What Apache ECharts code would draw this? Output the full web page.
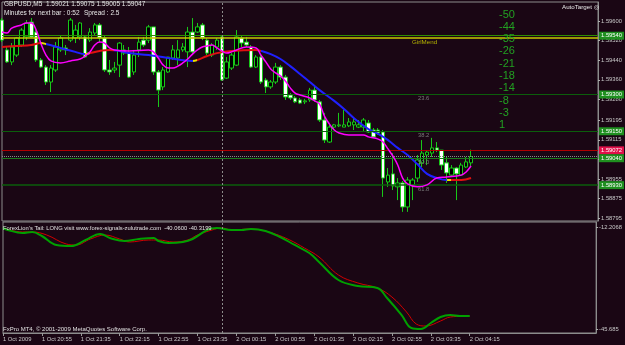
<!DOCTYPE html>
<html>
<head>
<meta charset="utf-8">
<script src="https://cdn.jsdelivr.net/npm/echarts@6/dist/echarts.min.js"></script>
<style>
  html, body { margin: 0; padding: 0; background: #1a0614; }
  #chart { width: 625px; height: 345px; }
</style>
</head>
<body>
<div id="chart"></div>
<script>
// GBPUSD M5, 1 Oct 2009 20:15 .. 2 Oct 2009 04:15, one row per bar: [open, high, low, close]
const bars = [
  [1.59604, 1.59612, 1.59514, 1.59522], [1.59482, 1.59494, 1.59429, 1.59433], [1.59433, 1.59510, 1.59420, 1.59494],
  [1.59461, 1.59535, 1.59453, 1.59531], [1.59502, 1.59571, 1.59494, 1.59563], [1.59535, 1.59604, 1.59522, 1.59592],
  [1.59596, 1.59612, 1.59531, 1.59535], [1.59555, 1.59563, 1.59433, 1.59441], [1.59441, 1.59449, 1.59408, 1.59412],
  [1.59412, 1.59420, 1.59339, 1.59351], [1.59351, 1.59420, 1.59310, 1.59408], [1.59400, 1.59514, 1.59392, 1.59494],
  [1.59482, 1.59539, 1.59474, 1.59531], [1.59490, 1.59502, 1.59461, 1.59482], [1.59522, 1.59612, 1.59514, 1.59604],
  [1.59531, 1.59584, 1.59510, 1.59563], [1.59535, 1.59596, 1.59522, 1.59592], [1.59535, 1.59543, 1.59449, 1.59453],
  [1.59522, 1.59571, 1.59514, 1.59555], [1.59551, 1.59592, 1.59539, 1.59584], [1.59584, 1.59592, 1.59514, 1.59531],
  [1.59531, 1.59539, 1.59392, 1.59400], [1.59400, 1.59441, 1.59380, 1.59392], [1.59400, 1.59433, 1.59388, 1.59408],
  [1.59420, 1.59514, 1.59371, 1.59510], [1.59482, 1.59502, 1.59461, 1.59469], [1.59469, 1.59494, 1.59367, 1.59371],
  [1.59392, 1.59482, 1.59380, 1.59461], [1.59482, 1.59535, 1.59453, 1.59514], [1.59522, 1.59535, 1.59494, 1.59502],
  [1.59522, 1.59584, 1.59510, 1.59576], [1.59576, 1.59576, 1.59380, 1.59392], [1.59392, 1.59400, 1.59249, 1.59318],
  [1.59331, 1.59412, 1.59318, 1.59400], [1.59392, 1.59453, 1.59388, 1.59453], [1.59449, 1.59502, 1.59441, 1.59482],
  [1.59449, 1.59522, 1.59420, 1.59482], [1.59482, 1.59510, 1.59474, 1.59494], [1.59474, 1.59576, 1.59412, 1.59555],
  [1.59555, 1.59612, 1.59461, 1.59474], [1.59555, 1.59592, 1.59551, 1.59576], [1.59584, 1.59592, 1.59522, 1.59531],
  [1.59522, 1.59531, 1.59461, 1.59469], [1.59461, 1.59510, 1.59453, 1.59502], [1.59494, 1.59531, 1.59482, 1.59522],
  [1.59535, 1.59543, 1.59355, 1.59359], [1.59367, 1.59453, 1.59363, 1.59433], [1.59408, 1.59469, 1.59400, 1.59461],
  [1.59420, 1.59563, 1.59416, 1.59535], [1.59531, 1.59539, 1.59494, 1.59510], [1.59514, 1.59535, 1.59494, 1.59502],
  [1.59494, 1.59502, 1.59408, 1.59412], [1.59412, 1.59461, 1.59408, 1.59453], [1.59453, 1.59461, 1.59343, 1.59351],
  [1.59359, 1.59367, 1.59306, 1.59331], [1.59331, 1.59359, 1.59323, 1.59351], [1.59351, 1.59429, 1.59343, 1.59412],
  [1.59412, 1.59420, 1.59359, 1.59371], [1.59371, 1.59380, 1.59278, 1.59290], [1.59298, 1.59306, 1.59278, 1.59286],
  [1.59286, 1.59294, 1.59265, 1.59270], [1.59278, 1.59286, 1.59261, 1.59265], [1.59270, 1.59282, 1.59261, 1.59274],
  [1.59278, 1.59327, 1.59270, 1.59318], [1.59318, 1.59339, 1.59270, 1.59278], [1.59270, 1.59278, 1.59188, 1.59196],
  [1.59196, 1.59225, 1.59102, 1.59114], [1.59106, 1.59176, 1.59102, 1.59167], [1.59167, 1.59180, 1.59155, 1.59176],
  [1.59172, 1.59225, 1.59167, 1.59176], [1.59167, 1.59237, 1.59167, 1.59176], [1.59172, 1.59204, 1.59167, 1.59188],
  [1.59176, 1.59208, 1.59155, 1.59188], [1.59167, 1.59196, 1.59163, 1.59176], [1.59167, 1.59204, 1.59147, 1.59196],
  [1.59184, 1.59196, 1.59143, 1.59147], [1.59155, 1.59163, 1.59123, 1.59127], [1.59155, 1.59163, 1.59135, 1.59143],
  [1.59147, 1.59155, 1.58882, 1.58959], [1.58943, 1.59000, 1.58923, 1.58971], [1.58976, 1.59061, 1.58910, 1.58927],
  [1.58923, 1.58959, 1.58869, 1.58939], [1.58939, 1.58947, 1.58821, 1.58841], [1.58841, 1.58963, 1.58821, 1.58951],
  [1.58931, 1.58959, 1.58869, 1.58951], [1.58959, 1.59053, 1.58943, 1.59033], [1.59021, 1.59114, 1.59004, 1.59061],
  [1.59053, 1.59073, 1.59012, 1.59065], [1.59061, 1.59123, 1.59045, 1.59082], [1.59082, 1.59106, 1.59065, 1.59073],
  [1.59073, 1.59073, 1.58992, 1.59012], [1.59021, 1.59045, 1.58939, 1.58980], [1.58971, 1.59012, 1.58967, 1.59000],
  [1.59000, 1.59004, 1.58869, 1.58976], [1.58971, 1.59021, 1.58967, 1.59012], [1.59004, 1.59045, 1.59000, 1.59025],
  [1.59021, 1.59075, 1.59005, 1.59047]
];

// time labels, one every 8 bars (40 minutes)
const tickLabels = ['1 Oct 2009', '1 Oct 20:55', '1 Oct 21:35', '1 Oct 22:15', '1 Oct 22:55', '1 Oct 23:35',
  '2 Oct 00:15', '2 Oct 00:55', '2 Oct 01:35', '2 Oct 02:15', '2 Oct 02:55', '2 Oct 03:35', '2 Oct 04:15'];
const daySeparator = 45; // 2 Oct 00:00

// moving averages: [bar index, price]
const fastMA = [
  [0, 1.59555], [1, 1.59551], [2, 1.59571], [4, 1.59584], [5, 1.59592], [6, 1.59592], [7, 1.59563], [8, 1.59506],
  [9, 1.59461], [10, 1.59437], [12, 1.59429], [14, 1.59437], [16, 1.59445], [17, 1.59457], [18, 1.59474], [19, 1.59502],
  [20, 1.59514], [21, 1.59510], [22, 1.59490], [23, 1.59482], [26, 1.59478], [30, 1.59482], [31, 1.59474], [32, 1.59449],
  [33, 1.59420], [34, 1.59408], [35, 1.59408], [36, 1.59416], [37, 1.59429], [38, 1.59445], [39, 1.59465], [40, 1.59482],
  [41, 1.59494], [42, 1.59498], [43, 1.59502], [44, 1.59490], [45, 1.59478], [46, 1.59469], [47, 1.59474], [48, 1.59482],
  [50, 1.59494], [52, 1.59490], [53, 1.59461], [54, 1.59433], [55, 1.59404], [56, 1.59388], [57, 1.59376], [58, 1.59355],
  [59, 1.59327], [60, 1.59306], [61, 1.59298], [63, 1.59286], [64, 1.59274], [65, 1.59261], [66, 1.59212], [67, 1.59180],
  [68, 1.59155], [69, 1.59143], [71, 1.59135], [74, 1.59135], [75, 1.59127], [77, 1.59118], [78, 1.59106], [79, 1.59078],
  [80, 1.59049], [81, 1.59012], [82, 1.58959], [83, 1.58935], [85, 1.58923], [87, 1.58931], [89, 1.58959], [91, 1.58963],
  [94, 1.58971], [95, 1.58984], [96, 1.59008]
];
const slowMA = [
  [0, 1.59494], [3, 1.59498], [6, 1.59502], [8, 1.59510], [9, 1.59506], [12, 1.59490], [15, 1.59474], [17, 1.59465],
  [18, 1.59469], [20, 1.59478], [22, 1.59482], [24, 1.59478], [26, 1.59469], [30, 1.59461], [34, 1.59449], [39, 1.59437],
  [40, 1.59441], [42, 1.59457], [44, 1.59469], [47, 1.59478], [52, 1.59482], [53, 1.59478], [55, 1.59465], [57, 1.59445],
  [59, 1.59416], [61, 1.59384], [63, 1.59351], [65, 1.59318], [68, 1.59274], [70, 1.59241], [72, 1.59204], [75, 1.59159],
  [77, 1.59139], [79, 1.59114], [81, 1.59082], [83, 1.59053], [85, 1.59016], [87, 1.58976], [89, 1.58959], [91, 1.58951],
  [94, 1.58951], [96, 1.58959]
];
// slope colouring of the slow MA: [from bar, to bar, colour]
const slowMASlope = [
  [0, 8.3, '#e01010'], [8.3, 8.9, '#e8e000'], [8.9, 17.3, '#2020ff'], [17.3, 17.9, '#e8e000'], [17.9, 22.8, '#e01010'],
  [22.8, 23.4, '#e8e000'], [23.4, 39, '#2020ff'], [39, 39.6, '#e8e000'], [39.6, 52.5, '#e01010'], [52.5, 53.1, '#e8e000'],
  [53.1, 91, '#2020ff'], [91, 91.6, '#e8e000'], [91.6, 200, '#e01010']
];

// ForexLion's Tail indicator: [bar index, value]
const tailGreen = [
  [0, -14.02], [1, -14.62], [4, -15.52], [6, -15.22], [8, -16.43], [11, -19.14], [14, -19.45], [17, -17.64],
  [20, -15.83], [22, -17.03], [25, -17.94], [28, -17.33], [31, -17.03], [32, -17.94], [34, -18.54], [37, -18.24],
  [39, -17.33], [42, -14.62], [44, -14.02], [47, -14.62], [49, -14.62], [51, -14.32], [54, -14.92], [57, -16.73],
  [60, -19.14], [63, -21.56], [65, -24.27], [69, -29.70], [73, -31.51], [77, -32.11], [79, -35.13], [82, -40.26],
  [84, -44.18], [86, -44.48], [88, -42.67], [90, -40.86], [92, -40.26], [94, -40.56], [96, -40.56]
];
const tailRed = [
  [0, -14.02], [4, -15.22], [6, -15.22], [9, -16.13], [13, -18.84], [15, -19.14], [18, -17.33], [21, -16.13],
  [24, -17.33], [26, -18.24], [30, -17.64], [32, -17.64], [35, -18.24], [38, -17.64], [40, -16.13], [43, -14.62],
  [45, -14.02], [47, -14.62], [51, -14.32], [53, -14.62], [56, -15.83], [59, -17.64], [62, -20.05], [65, -22.76],
  [69, -28.19], [73, -30.60], [77, -32.11], [80, -34.83], [83, -39.35], [85, -42.97], [87, -43.57], [90, -42.07],
  [92, -40.86], [96, -40.56]
];

const priceTicks = [1.59600, 1.59520, 1.59440, 1.59360, 1.59280, 1.59195, 1.59115, 1.59035, 1.58955, 1.58875, 1.58795];
const tailMax = -12.2068;
const tailMin = -45.685;

// horizontal price levels: [price, line colour, width, type, box colour or null]
const levels = [
  [1.59540, '#2f8f00', 1, 'solid', '#1f8f1f'],
  [1.59533, '#c8c800', 1.5, 'solid', null],
  [1.59300, '#0b5e0b', 1, 'solid', '#1f8f1f'],
  [1.59150, '#0b5e0b', 1, 'solid', '#1f8f1f'],
  [1.59072, '#b00000', 1, 'solid', '#e0104a'],
  [1.59047, '#8a8a8a', 1, 'dotted', null],
  [1.59040, '#1a7a1a', 1, 'solid', '#1f8f1f'],
  [1.58930, '#0b5e0b', 1.5, 'solid', '#1f8f1f']
];
const fibLabels = [['23.6', 1.59300], ['38.2', 1.59150], ['50.0', 1.59040], ['61.8', 1.58930]];
const targets = ['-50', '-44', '-35', '-26', '-21', '-18', '-14', '-8', '-3', '1'];

const BG = '#1a0614';
const FONT = 'Liberation Sans';
const SLOTS = 123;
const categories = [];
for (let i = 0; i < SLOTS; i++) {
  categories.push(i % 8 === 0 && tickLabels[i / 8] ? tickLabels[i / 8] : '');
}
const showTick = (i, v) => v !== '';

const chart = echarts.init(document.getElementById('chart'));

const levelLines = levels.map(l => ({
  yAxis: l[0],
  lineStyle: { color: l[1], width: l[2], type: l[3] },
  label: l[4] ? {
    show: true, position: 'end', distance: 1, formatter: l[0].toFixed(5),
    backgroundColor: l[4], color: '#ffffff', fontSize: 5.8, fontFamily: FONT, padding: [1, 2]
  } : { show: false }
}));

const separator = {
  symbol: 'none', silent: true, animation: false,
  lineStyle: { color: '#8c8c8c', type: [2, 2], width: 1 },
  label: { show: false },
  data: [{ xAxis: daySeparator }]
};

// the indicator axis prints only its max and min, just inside the pane edges
const tailSpan = tailMax - tailMin;
const tailLabelAt = [tailMax - tailSpan * 0.045, tailMin + tailSpan * 0.03];

chart.setOption({
  backgroundColor: BG,
  animation: false,
  grid: [
    { left: 2, right: 23, top: 2, height: 219, show: true, borderColor: '#8c8c8c', borderWidth: 1 },
    { left: 2, right: 23, top: 222, height: 111, show: true, borderColor: '#8c8c8c', borderWidth: 1 }
  ],
  xAxis: [
    { type: 'category', gridIndex: 0, data: categories, boundaryGap: false,
      axisLine: { show: false }, axisTick: { show: false }, axisLabel: { show: false }, splitLine: { show: false } },
    { type: 'category', gridIndex: 1, data: categories, boundaryGap: false,
      axisLine: { lineStyle: { color: '#8c8c8c' } },
      axisTick: { interval: showTick, length: 3, lineStyle: { color: '#9a9a9a' } },
      axisLabel: { interval: showTick, align: 'left', margin: 3, color: '#c8c8c8', fontSize: 5.8, fontFamily: FONT },
      splitLine: { show: false } }
  ],
  yAxis: [
    { type: 'value', gridIndex: 0, position: 'right', min: 1.587837, max: 1.596776, scale: true,
      axisLine: { show: true, lineStyle: { color: '#8c8c8c' } },
      axisTick: { show: true, customValues: priceTicks, length: 2, lineStyle: { color: '#b0b0b0' } },
      axisLabel: { customValues: priceTicks, formatter: v => v.toFixed(5), margin: 3,
        color: '#c8c8c8', fontSize: 5.8, fontFamily: FONT },
      splitLine: { show: false } },
    { type: 'value', gridIndex: 1, position: 'right', min: tailMin, max: tailMax,
      axisLine: { show: true, lineStyle: { color: '#8c8c8c' } },
      axisTick: { show: true, customValues: tailLabelAt, length: 2, lineStyle: { color: '#b0b0b0' } },
      axisLabel: { customValues: tailLabelAt,
        formatter: v => (v > -30 ? String(tailMax) : String(tailMin)), margin: 3,
        color: '#c8c8c8', fontSize: 5.8, fontFamily: FONT },
      splitLine: { show: false } }
  ],
  visualMap: {
    show: false, type: 'piecewise', seriesIndex: 2, dimension: 0,
    pieces: slowMASlope.map(s => ({ gte: s[0], lt: s[1], color: s[2] }))
  },
  series: [
    {
      // price levels, drawn behind the bars
      type: 'line', xAxisIndex: 0, yAxisIndex: 0, data: [], z: 1,
      markLine: { symbol: 'none', silent: true, animation: false, precision: 5, data: levelLines }
    },
    {
      type: 'candlestick', xAxisIndex: 0, yAxisIndex: 0, barWidth: 4,
      data: bars.map(b => [b[0], b[3], b[2], b[1]]),
      itemStyle: { color: '#000000', color0: '#ffffff', borderColor: '#18c818', borderColor0: '#18c818', borderWidth: 1 },
      markLine: separator,
      z: 3
    },
    {
      type: 'line', xAxisIndex: 0, yAxisIndex: 0, data: slowMA, smooth: 0.4,
      showSymbol: false, lineStyle: { width: 2 }, z: 4
    },
    {
      type: 'line', xAxisIndex: 0, yAxisIndex: 0, data: fastMA, smooth: 0.4,
      showSymbol: false, lineStyle: { width: 1.5, color: '#ff00ff' }, itemStyle: { color: '#ff00ff' }, z: 5
    },
    {
      type: 'line', xAxisIndex: 1, yAxisIndex: 1, data: tailRed, smooth: 0.4,
      showSymbol: false, lineStyle: { width: 1, color: '#d00000' }, itemStyle: { color: '#d00000' }, z: 3,
      markLine: separator
    },
    {
      type: 'line', xAxisIndex: 1, yAxisIndex: 1, data: tailGreen, smooth: 0.4,
      showSymbol: false, lineStyle: { width: 2, color: '#00a000' }, itemStyle: { color: '#00a000' }, z: 4
    }
  ]
});

// free text laid over the panes
const texts = [
  { x: 4, y: 1, text: 'GBPUSD,M5  1.59021 1.59075 1.59005 1.59047', size: 6.5, color: '#e8e8e8' },
  { x: 4, y: 10, text: 'Minutes for next bar : 0:52', size: 6.5, color: '#e8e8e8' },
  { x: 84, y: 10, text: 'Spread : 2.5', size: 6.5, color: '#e8e8e8' },
  { x: 562, y: 4, text: 'AutoTarget \u25CE', size: 6.2, color: '#e8e8e8' },
  { x: 3, y: 225, text: "ForexLion's Tail: LONG visit www.forex-signals-zulutrade.com  -40.0600 -40.3199", size: 5.8, color: '#e0e0e0' },
  { x: 3, y: 326, text: 'FxPro MT4, \u00A9 2001-2009 MetaQuotes Software Corp.', size: 6, color: '#e0e0e0' }
];
const girl = chart.convertToPixel({ yAxisIndex: 0 }, 1.59533);
texts.push({ x: 412, y: girl + 2, text: 'GirlMend', size: 6.2, color: '#b4b400' });
fibLabels.forEach(f => {
  const y = chart.convertToPixel({ yAxisIndex: 0 }, f[1]);
  texts.push({ x: 418, y: y + 1, text: f[0], size: 5.8, color: '#7a7a7a' });
});
targets.forEach((t, i) => {
  texts.push({ x: 499, y: 9 + i * 12.3, text: t, size: 11, color: '#22a022' });
});

chart.setOption({
  graphic: texts.map(t => ({
    type: 'text', left: t.x, top: t.y, silent: true, z: 10,
    style: { text: t.text, fill: t.color, font: t.size + 'px "' + FONT + '"' }
  }))
});
</script>
</body>
</html>
